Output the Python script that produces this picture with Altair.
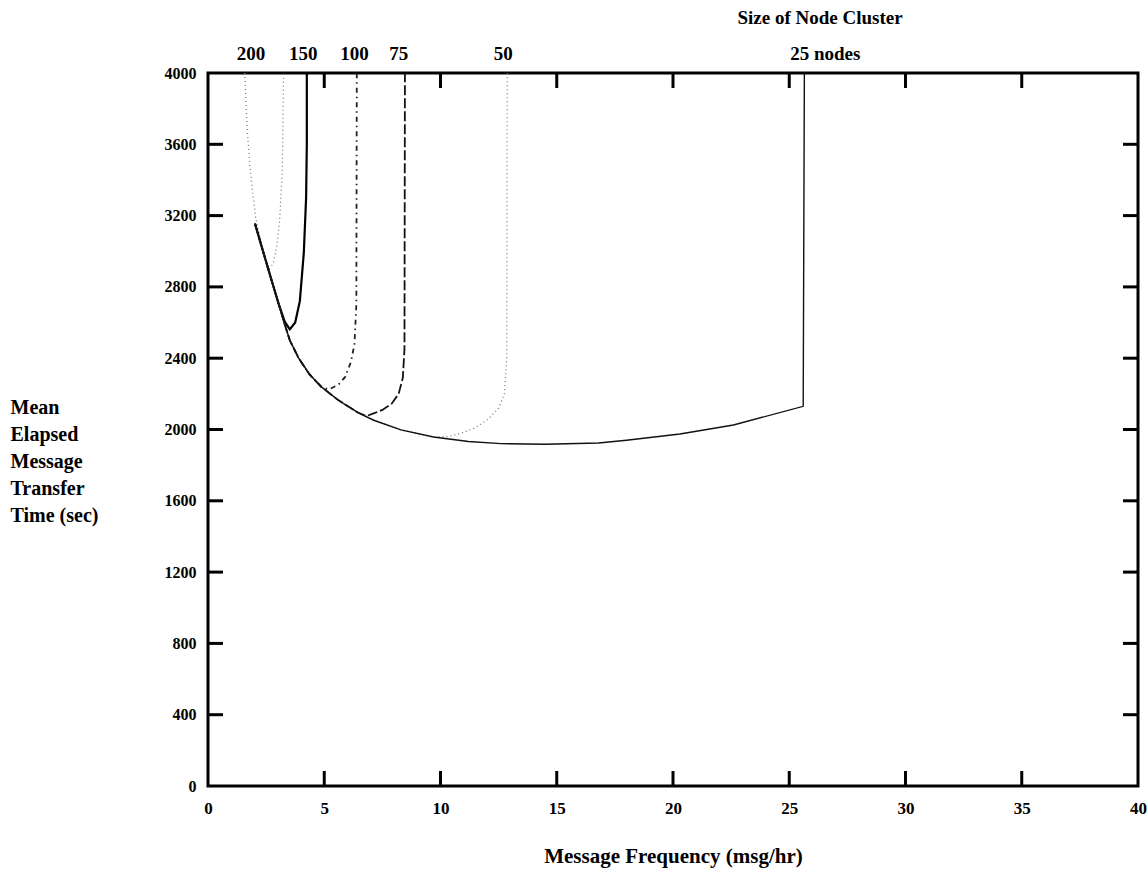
import altair as alt
import pandas as pd

# Mean elapsed message transfer time (sec) vs. message frequency (msg/hr)
# for several node-cluster sizes.

# 200-node cluster
x200 = [1.58, 1.68, 1.80, 1.93, 2.05, 2.30, 2.60, 2.80, 2.95, 3.08, 3.20, 3.25]
y200 = [4000, 3700, 3480, 3320, 3190, 3030, 2896, 2930, 3020, 3170, 3460, 4000]

# 150-node cluster
x150 = [2.02, 2.40, 2.75, 3.05, 3.30, 3.52, 3.75, 3.95, 4.12, 4.22, 4.25, 4.25]
y150 = [3155, 2985, 2830, 2700, 2605, 2562, 2600, 2720, 2990, 3300, 3600, 4000]

# shared descending branch (followed by the smaller clusters)
x_env = [2.02, 2.40, 2.75, 3.05, 3.30, 3.52, 3.90, 4.36, 4.87, 5.60, 6.45, 7.13,
         8.30, 9.70, 11.2, 12.6, 14.5, 16.8, 18.0, 20.3, 22.6, 25.6]
y_env = [3155, 2985, 2830, 2700, 2590, 2500, 2400, 2310, 2240, 2165, 2095, 2052,
         1998, 1958, 1933, 1921, 1917, 1924, 1940, 1975, 2025, 2130]

# rising branches toward saturation
x100_up = [5.20, 5.60, 5.90, 6.15, 6.30, 6.38, 6.40]
y100_up = [2225, 2250, 2295, 2380, 2480, 2700, 4000]

x75_up = [6.80, 7.12, 7.50, 7.90, 8.20, 8.38, 8.45, 8.47]
y75_up = [2075, 2090, 2110, 2145, 2200, 2290, 2450, 4000]

x50_up = [10.3, 10.9, 11.5, 12.06, 12.5, 12.75, 12.85, 12.87]
y50_up = [1960, 1980, 2010, 2059, 2120, 2200, 2400, 4000]

x25_up = [25.65]
y25_up = [4000]

# top labels for the cluster sizes
size_labels = ["200", "150", "100", "75", "50", "25 nodes"]
size_label_x = [1.85, 4.1, 6.3, 8.2, 12.7, 26.55]

x_ticks = [0, 5, 10, 15, 20, 25, 30, 35, 40]
y_ticks = [0, 400, 800, 1200, 1600, 2000, 2400, 2800, 3200, 3600, 4000]
x_inner = [5, 10, 15, 20, 25, 30, 35]
y_inner = [400, 800, 1200, 1600, 2000, 2400, 2800, 3200, 3600]

W, H = 930, 713
FONT = "Liberation Serif"


def branch(xs_env, ys_env, stop_x, xs_up, ys_up):
    xs = [x for x in xs_env if x <= stop_x]
    ys = ys_env[:len(xs)]
    return xs + xs_up, ys + ys_up


curves = {
    "200": (x200, y200),
    "150": (x150, y150),
    "100": branch(x_env, y_env, 4.87, x100_up, y100_up),
    "75": branch(x_env, y_env, 6.45, x75_up, y75_up),
    "50": branch(x_env, y_env, 9.70, x50_up, y50_up),
    "25": branch(x_env, y_env, 25.6, x25_up, y25_up),
}

styles = {
    "200": dict(color="#7a7a7a", strokeWidth=1.3, strokeDash=[1, 3]),
    "150": dict(color="black", strokeWidth=2.2),
    "100": dict(color="#222222", strokeWidth=1.8, strokeDash=[5, 4, 1.5, 4]),
    "75": dict(color="#111111", strokeWidth=1.8, strokeDash=[10, 3]),
    "50": dict(color="#7a7a7a", strokeWidth=1.3, strokeDash=[1, 3]),
    "25": dict(color="#111111", strokeWidth=1.4),
}

xs = alt.Scale(domain=[0, 40], nice=False)
ys = alt.Scale(domain=[0, 4000], nice=False)

x_axis = alt.Axis(values=x_ticks, format="d", domain=False, ticks=False, grid=False,
                  labelFont=FONT, labelFontWeight="bold", labelFontSize=17,
                  labelColor="black", labelPadding=14, labelFlush=False,
                  title="Message Frequency (msg/hr)", titleFont=FONT,
                  titleFontSize=21, titleFontWeight="bold", titleColor="black",
                  titleY=70, titleBaseline="middle")
y_axis = alt.Axis(values=y_ticks, format="d", domain=False, ticks=False, grid=False,
                  labelFont=FONT, labelFontWeight="bold", labelFontSize=16,
                  labelColor="black", labelPadding=12, labelFlush=False,
                  title=["Mean", "Elapsed", "Message", "Transfer", "Time (sec)"],
                  titleAngle=0, titleAlign="left", titleBaseline="top",
                  titleX=-198, titleY=324, titleLineHeight=27,
                  titleFont=FONT, titleFontSize=20, titleFontWeight="bold",
                  titleColor="black")


def X(field="x:Q"):
    return alt.X(field, scale=xs, axis=x_axis)


def Y(field="y:Q"):
    return alt.Y(field, scale=ys, axis=y_axis)


layers = []
for name, (cx, cy) in curves.items():
    df = pd.DataFrame({"x": cx, "y": cy, "i": list(range(len(cx)))})
    layers.append(alt.Chart(df).mark_line(clip=True, **styles[name]).encode(
        x=X(), y=Y(), order="i:O"))

# inward tick marks on all four sides
xt = pd.DataFrame({"x": x_inner})
yt = pd.DataFrame({"y": y_inner})
tick_style = dict(color="black", strokeWidth=3)
layers.append(alt.Chart(xt).mark_rule(**tick_style).encode(
    x=X(), y=alt.value(H), y2=alt.value(H - 15)))
layers.append(alt.Chart(xt).mark_rule(**tick_style).encode(
    x=X(), y=alt.value(0), y2=alt.value(15)))
layers.append(alt.Chart(yt).mark_rule(**tick_style).encode(
    y=Y(), x=alt.value(0), x2=alt.value(15)))
layers.append(alt.Chart(yt).mark_rule(**tick_style).encode(
    y=Y(), x=alt.value(W), x2=alt.value(W - 15)))

# cluster-size labels above the frame
lab = pd.DataFrame({"label": size_labels, "x": size_label_x})
layers.append(alt.Chart(lab).mark_text(
    font=FONT, fontSize=19, fontWeight="bold", color="black",
    align="center", baseline="middle").encode(
    x=X(), y=alt.value(-19), text="label:N"))

title_df = pd.DataFrame({"t": ["Size of Node Cluster"]})
layers.append(alt.Chart(title_df).mark_text(
    font=FONT, fontSize=19, fontWeight="bold", color="black",
    align="center", baseline="middle").encode(
    x=alt.value(612), y=alt.value(-55), text="t:N"))

chart = alt.layer(*layers).properties(
    width=W, height=H,
    autosize=alt.AutoSizeParams(type="none"),
    padding={"left": 208, "top": 73, "right": 9, "bottom": 92},
    background="white",
).configure_view(stroke="black", strokeWidth=3)

chart.save("out.html", embed_options={"renderer": "svg", "actions": False})
